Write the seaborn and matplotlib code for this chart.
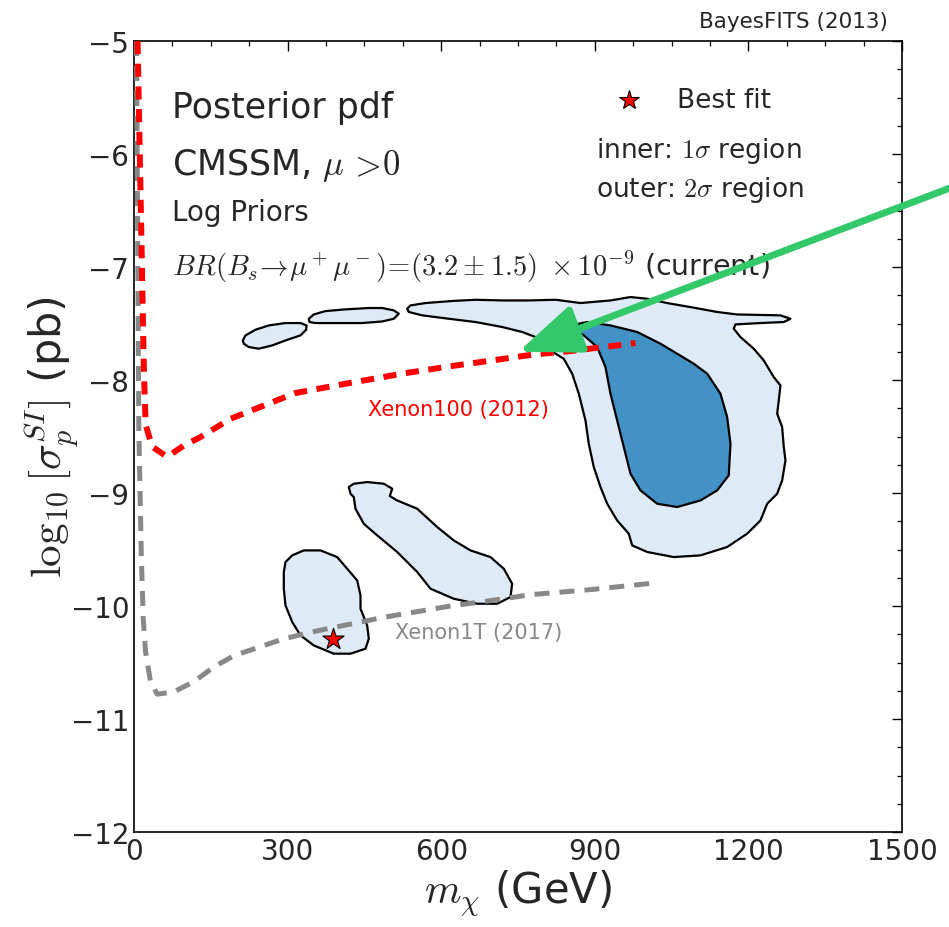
import numpy as np
import pandas as pd
import matplotlib
matplotlib.use("Agg")
import matplotlib.pyplot as plt
import seaborn as sns

# ---------------- data (GeV, log10 pb) ----------------
xenon100_m = [7, 13, 19, 21, 23, 35.5, 64.8, 97.3, 129.9, 188.5, 315.4, 413.0, 523.8,
              614.8, 699.6, 777.7, 852.5, 943.7, 979.4]
xenon100_y = [-5.0, -6.40, -7.84, -8.17, -8.40, -8.59, -8.68, -8.58, -8.505, -8.343, -8.115,
              -8.033, -7.944, -7.880, -7.827, -7.776, -7.744, -7.694, -7.673]

xenon1t_m = [5, 9.4, 14.1, 18.0, 22.5, 32.2, 45.3, 77.7, 116.8, 155.9, 194.9, 227.5, 292.6,
             357.8, 422.8, 487.9, 553.1, 618.1, 676.7, 774.3, 891.6, 1009]
xenon1t_y = [-5.0, -8.43, -9.52, -10.11, -10.40, -10.67, -10.78, -10.76, -10.67, -10.54,
             -10.44, -10.39, -10.29, -10.22, -10.16, -10.10, -10.05, -10.00, -9.965, -9.90,
             -9.855, -9.80]

# 2 sigma islands
island1_m = [212.5, 217.8, 237.3, 263.3, 295.9, 325.2, 336.9, 336.3, 325.2, 295.9, 269.9,
             243.7, 224.2, 214.4]
island1_y = [-7.65, -7.605, -7.555, -7.517, -7.496, -7.496, -7.517, -7.555, -7.605, -7.650,
             -7.694, -7.723, -7.708, -7.679]

island2_m = [341.4, 351.1, 374.0, 413.1, 458.6, 484.7, 507.4, 517.2, 507.4, 484.7, 445.7,
             393.5, 354.5, 342.8]
island2_y = [-7.458, -7.420, -7.390, -7.375, -7.363, -7.363, -7.384, -7.413, -7.458, -7.482,
             -7.496, -7.496, -7.496, -7.487]

main2s_m = [533.6, 540.0, 569.3, 621.4, 667.0, 719.1, 771.0, 823.2, 872.0, 930.6, 969.7,
            1002.3, 1041.3, 1093.3, 1139.0, 1178.0, 1262.6, 1282.1, 1269.1, 1223.6, 1174.7,
            1171.4, 1184.5, 1210.5, 1230.0, 1249.5, 1262.6, 1259.3, 1256.2, 1265.9, 1269.1,
            1272.4, 1265.9, 1256.2, 1236.7, 1223.6, 1197.6, 1158.5, 1106.4, 1054.2, 1002.3,
            973.0, 966.3, 943.7, 924.2, 911.1, 898.0, 888.2, 881.8, 868.7, 855.8, 839.4,
            823.2, 803.6, 784.1, 758.2, 719.1, 667.0, 614.8, 562.9, 536.7]
main2s_y = [-7.369, -7.340, -7.319, -7.301, -7.290, -7.296, -7.296, -7.290, -7.319, -7.296,
            -7.266, -7.281, -7.319, -7.360, -7.398, -7.420, -7.428, -7.458, -7.487, -7.496,
            -7.508, -7.546, -7.620, -7.723, -7.827, -7.974, -8.048, -8.181, -8.298, -8.416,
            -8.593, -8.712, -8.889, -9.006, -9.095, -9.243, -9.360, -9.478, -9.552, -9.567,
            -9.522, -9.464, -9.360, -9.243, -9.095, -8.947, -8.770, -8.564, -8.358, -8.121,
            -7.944, -7.812, -7.767, -7.678, -7.620, -7.575, -7.531, -7.487, -7.458, -7.428,
            -7.398]

middle_m = [419.5, 429.3, 455.4, 487.9, 504.3, 499.6, 514.0, 553.1, 592.2, 624.6, 657.2,
            696.2, 722.2, 738.6, 735.3, 709.3, 670.3, 624.6, 579.1, 553.1, 514.0, 475.0,
            448.8, 432.6, 429.3, 422.8]
middle_y = [-8.947, -8.918, -8.903, -8.918, -8.962, -9.027, -9.066, -9.139, -9.301, -9.420,
            -9.508, -9.567, -9.670, -9.803, -9.921, -9.980, -9.980, -9.936, -9.847, -9.699,
            -9.522, -9.375, -9.272, -9.139, -9.036, -9.006]

bestfit_island_m = [295.9, 309.0, 331.6, 364.2, 396.8, 416.4, 435.9, 442.4, 442.4, 455.4,
                    458.6, 452.1, 422.8, 390.2, 351.2, 325.2, 309.0, 295.9, 292.6, 292.6]
bestfit_island_y = [-9.611, -9.552, -9.508, -9.508, -9.567, -9.670, -9.774, -9.906, -10.024,
                    -10.172, -10.290, -10.378, -10.422, -10.422, -10.349, -10.260, -10.142,
                    -9.995, -9.847, -9.699]

# 1 sigma region
main1s_m = [852.5, 885.1, 930.6, 982.7, 1028.3, 1093.3, 1119.5, 1145.4, 1158.5, 1165.0,
            1161.6, 1139.0, 1106.4, 1060.9, 1021.8, 989.2, 969.7, 956.6, 943.7, 930.6, 920.8,
            904.6, 878.5, 855.8]
main1s_y = [-7.517, -7.487, -7.517, -7.575, -7.679, -7.856, -7.944, -8.121, -8.328, -8.564,
            -8.844, -8.977, -9.066, -9.124, -9.095, -8.977, -8.829, -8.593, -8.358, -8.121,
            -7.885, -7.708, -7.605, -7.546]

bestfit_m = [388]
bestfit_y = [-10.29]

arrow_tip = (751, -7.750)
arrow_tail = (1600, -6.29)

x_ticks = [0, 300, 600, 900, 1200, 1500]
y_ticks = [-12, -11, -10, -9, -8, -7, -6, -5]

# ---------------- style ----------------
sns.set_style("white")
plt.rcParams['font.family'] = ['DejaVu Sans']
plt.rcParams['mathtext.fontset'] = 'cm'

fig = plt.figure(figsize=(9.49, 9.28), dpi=100)
ax = fig.add_axes([134 / 949, 95 / 928, 768 / 949, 791 / 928])

# contours
for mm, yy in [(island1_m, island1_y), (island2_m, island2_y), (main2s_m, main2s_y),
               (middle_m, middle_y), (bestfit_island_m, bestfit_island_y)]:
    ax.fill(mm, yy, facecolor="#deebf7", edgecolor="black", lw=1.6, zorder=1,
            joinstyle="round")
ax.fill(main1s_m, main1s_y, facecolor="#4292c6", edgecolor="black", lw=1.6, zorder=1.5,
        joinstyle="round")

# exclusion limits
df100 = pd.DataFrame({"m": xenon100_m, "y": xenon100_y})
df1t = pd.DataFrame({"m": xenon1t_m, "y": xenon1t_y})
sns.lineplot(data=df1t, x="m", y="y", sort=False, estimator=None, color="#888888",
             lw=3.6, ax=ax, zorder=3)
ax.lines[-1].set_dashes([3.0, 2.0])
sns.lineplot(data=df100, x="m", y="y", sort=False, estimator=None, color="#ff0000",
             lw=4.3, ax=ax, zorder=3)
ax.lines[-1].set_dashes([2.2, 1.6])

# best fit star
sns.scatterplot(x=bestfit_m, y=bestfit_y, marker="*", s=260, color="red",
                edgecolor="black", linewidth=0.8, ax=ax, zorder=5, legend=False)

# labels on lines
ax.text(633.7, -8.254, "Xenon100 (2012)", color="red", fontsize=15, ha="center",
        va="center", zorder=6)
ax.text(672.8, -10.228, "Xenon1T (2017)", color="#888888", fontsize=15, ha="center",
        va="center", zorder=6)

# annotations
tx = ax.transAxes
ax.text(0.050, 0.9166, "Posterior pdf", transform=tx, fontsize=25, va="center", ha="left")
ax.text(0.050, 0.8445, r"CMSSM, $\mu\,>\!0$", transform=tx, fontsize=25, va="center",
        ha="left")
ax.text(0.050, 0.7838, "Log Priors", transform=tx, fontsize=20, va="center", ha="left")
ax.text(0.050, 0.7156,
        r"$BR(B_s\!\rightarrow\!\mu^+\mu^-)\!=\!(3.2\pm1.5)\ \times10^{-9}$ (current)",
        transform=tx, fontsize=20.5, va="center", ha="left")
ax.plot([0.644], [0.926], marker="*", ms=15, color="red", mec="black", mew=0.8,
        transform=tx, zorder=6, clip_on=False)
ax.text(0.707, 0.926, "Best fit", transform=tx, fontsize=19, va="center", ha="left")
ax.text(0.601, 0.862, r"inner: $1\sigma$ region", transform=tx, fontsize=19,
        va="center", ha="left")
ax.text(0.601, 0.813, r"outer: $2\sigma$ region", transform=tx, fontsize=19,
        va="center", ha="left")
fig.text(888 / 949, 1 - 22 / 928, "BayesFITS (2013)", fontsize=15.5, ha="right",
         va="center")

# green arrow
ax.annotate("", xy=arrow_tip, xytext=arrow_tail, xycoords="data", textcoords="data",
            annotation_clip=False,
            arrowprops=dict(arrowstyle="-|>,head_length=1.9,head_width=0.75",
                            mutation_scale=20, color="#33c96a", lw=5,
                            shrinkA=0, shrinkB=0),
            zorder=10)

# axes
ax.set_xlim(0, 1500)
ax.set_ylim(-12, -5)
ax.set_xticks(x_ticks)
ax.set_yticks(y_ticks)
ax.set_xticks(np.arange(0, 1501, 75), minor=True)
ax.set_yticks(np.arange(-12, -4.99, 0.25), minor=True)
ax.tick_params(which="both", direction="in", top=True, right=True, labelsize=20,
               color="black")
ax.tick_params(which="major", length=7, width=1.0)
ax.tick_params(which="minor", length=3.5, width=0.9)
for sp in ax.spines.values():
    sp.set_linewidth(1.2)
    sp.set_color("black")
ax.set_xlabel(r"$m_\chi$ (GeV)", fontsize=30, labelpad=2)
ax.set_ylabel(r"$\log_{10}[\sigma_p^{SI}]$ (pb)", fontsize=31)
ax.yaxis.set_label_coords(-0.069, 0.5)

fig.savefig("out.png", dpi=100)
